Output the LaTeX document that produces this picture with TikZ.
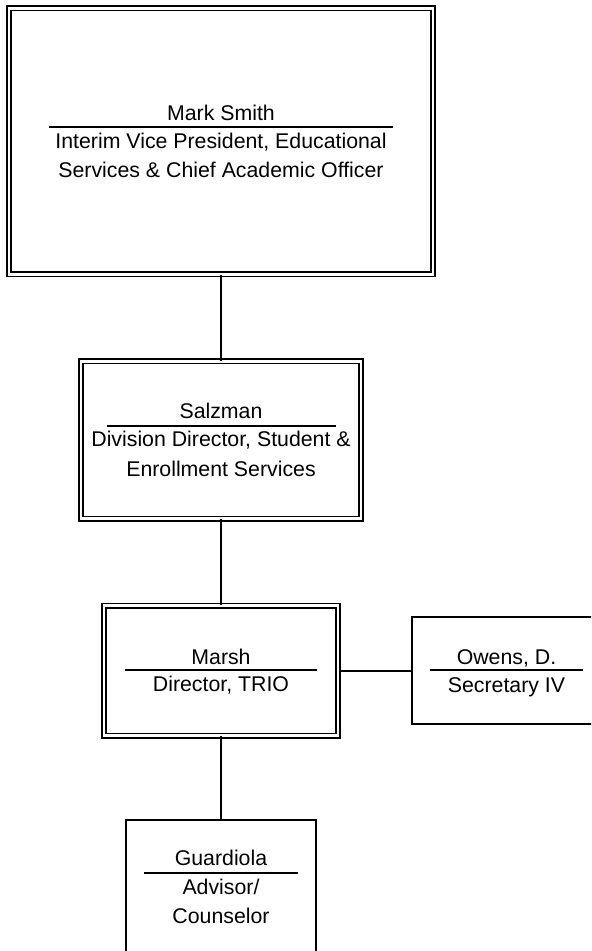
\documentclass[tikz,border=0pt]{standalone}
\usepackage{fontspec}
\setmainfont{Liberation Sans}
\begin{document}
\begin{tikzpicture}
  [x=0.5pt,y=-0.5pt,every node/.style={font=\fontsize{10.65}{14}\selectfont}]
  \tikzstyle{head} = [draw,line width=.8pt,double,double distance=1.4pt,inner sep=0pt]
  \tikzstyle{staff} = [draw,line width=1pt,inner sep=0pt]
  \tikzstyle{txt} = [anchor=base,inner sep=0pt]
  \tikzstyle{hrule} = [line width=.9pt]
  \tikzstyle{link} = [line width=1pt]
  \clip (0,0) rectangle (591,951);

  \node[head,minimum width=212pt,minimum height=133pt] (vp) at (221,141.5) {};
  \node[head,minimum width=140pt,minimum height=78.5pt] (salz) at (221,440) {};
  \node[head,minimum width=117pt,minimum height=65pt] (marsh) at (221,670.5) {};
  \node[staff,minimum width=95pt,minimum height=53.5pt] (owens) at (507,670.5) {};
  \node[staff,minimum width=95pt,minimum height=80pt] (guard) at (221,900) {};

  \draw[link] (vp) -- (salz);
  \draw[link] (salz) -- (marsh);
  \draw[link] (marsh) -- (owens);
  \draw[link] (marsh) -- (guard);

\foreach \id/\x/\y/\txt in {vpn/221/120.7/Mark Smith,
    vpa/221/149/{Interim Vice President, Educational},
    vpb/221/177.7/Services \& Chief Academic Officer,
    salzn/221/418/Salzman,
    salza/221/446.7/{Division Director, Student \&},
    salzb/221/476/Enrollment Services,
    marshn/221/664/Marsh,
    marsha/221/691.7/{Director, TRIO},
    owensn/506.5/664/{Owens, D.},
    owensa/506.5/692/Secretary IV,
    guardn/221/865/Guardiola,
    guarda/221/894/{Advisor/},
    guardb/221/923/Counselor}
   \node[txt] (\id) at (\x,\y) {\txt};

\foreach \x/\y/\w in {221/127/344,221/426/229,221/670/192,506.5/670/153,221/872.7/154}
   \draw[hrule] (\x-\w/2,\y) -- (\x+\w/2,\y);

\end{tikzpicture}
\end{document}
